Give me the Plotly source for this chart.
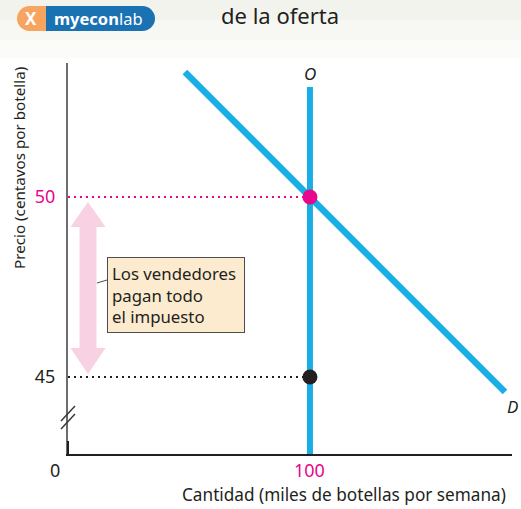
import plotly.graph_objects as go

# ---------------- data ----------------
price_tick_vals = [45, 50]
price_tick_text = ["45", "50"]
qty_tick_vals = [100]
qty_tick_text = ["100"]

supply_q = [100, 100]
supply_p = [42.86, 53.05]
demand_q = [48.3, 180.6]
demand_p = [53.47, 44.58]

eq_q = 100
price_buyers = 50   # price paid by buyers
price_sellers = 45  # price received by sellers

x_range = [0, 183.5]
y_range = [42.86, 53.72]

# ---------------- layout helpers ----------------
W, H = 521, 509
L, R, T, B = 68, 512, 63, 454

def px(x):
    return (x - L) / (R - L)

def py(y):
    return (B - y) / (B - T)

FONT = "Noto Sans"
BLUE = "#19aee6"
MAGENTA = "#e8068c"
DARK = "#231f20"
PINK = "#f8d1e2"

fig = go.Figure()

# dotted guide lines
fig.add_trace(go.Scatter(x=[0, eq_q], y=[price_buyers, price_buyers], mode="lines",
                         line=dict(color=MAGENTA, width=2, dash="2px,4px"), hoverinfo="skip"))
fig.add_trace(go.Scatter(x=[0, eq_q], y=[price_sellers, price_sellers], mode="lines",
                         line=dict(color=DARK, width=2, dash="2px,4px"), hoverinfo="skip"))
# supply & demand
fig.add_trace(go.Scatter(x=supply_q, y=supply_p, mode="lines",
                         line=dict(color=BLUE, width=6), hoverinfo="skip"))
fig.add_trace(go.Scatter(x=demand_q, y=demand_p, mode="lines",
                         line=dict(color=BLUE, width=6.5), hoverinfo="skip"))
# points
fig.add_trace(go.Scatter(x=[eq_q], y=[price_buyers], mode="markers",
                         marker=dict(color=MAGENTA, size=15), hoverinfo="skip"))
fig.add_trace(go.Scatter(x=[eq_q], y=[price_sellers], mode="markers",
                         marker=dict(color=DARK, size=15), hoverinfo="skip"))

shapes = []
# top background band (light gradient)
for (y0, y1, c) in [(0, 20, "#f3f3ee"), (20, 40, "#f7f7f3"), (40, 58, "#fbfbf9")]:
    shapes.append(dict(type="rect", xref="paper", yref="paper", x0=px(0), x1=px(W),
                       y0=py(y1), y1=py(y0), fillcolor=c, line=dict(width=0), layer="below"))

# logo pill
def circ(cx, cy, r, color):
    return dict(type="circle", xref="paper", yref="paper", x0=px(cx - r), x1=px(cx + r),
                y0=py(cy + r), y1=py(cy - r), fillcolor=color, line=dict(width=0))
shapes.append(circ(29.5, 18.5, 12.5, "#f6a45f"))
shapes.append(circ(142.5, 18.5, 12.5, "#1a72b3"))
shapes.append(dict(type="rect", xref="paper", yref="paper", x0=px(29.5), x1=px(46),
                   y0=py(31), y1=py(6), fillcolor="#f6a45f", line=dict(width=0)))
shapes.append(dict(type="rect", xref="paper", yref="paper", x0=px(46), x1=px(142.5),
                   y0=py(31), y1=py(6), fillcolor="#1a72b3", line=dict(width=0)))

# pink double arrow
cx = 88
pts = [(cx, 202), (cx + 17.5, 227), (cx + 8.5, 227), (cx + 8.5, 348), (cx + 17.5, 348),
       (cx, 374), (cx - 17.5, 348), (cx - 8.5, 348), (cx - 8.5, 227), (cx - 17.5, 227)]
path = "M " + " L ".join(f"{px(a):.5f},{py(b):.5f}" for a, b in pts) + " Z"
shapes.append(dict(type="path", xref="paper", yref="paper", path=path,
                   fillcolor=PINK, line=dict(width=0), layer="below"))

# connector line from arrow to box
shapes.append(dict(type="line", xref="paper", yref="paper", x0=px(97), y0=py(283),
                   x1=px(107), y1=py(280), line=dict(color="#4d4d4d", width=1)))

# axis break marks
for off in (0, 8):
    shapes.append(dict(type="line", xref="paper", yref="paper", x0=px(61), y0=py(429 - off),
                       x1=px(75), y1=py(414 - off), line=dict(color="#3a3a3a", width=1.5)))
# darker bottom piece of y axis
shapes.append(dict(type="line", xref="paper", yref="paper", x0=px(68), y0=py(441),
                   x1=px(68), y1=py(454), line=dict(color=DARK, width=2)))

annotations = []
# logo text
annotations.append(dict(xref="paper", yref="paper", x=px(31), y=py(18.5), text="<b>X</b>",
                        showarrow=False, font=dict(family=FONT, size=17, color="white"),
                        xanchor="center", yanchor="middle"))
annotations.append(dict(xref="paper", yref="paper", x=px(98.5), y=py(18.5),
                        text="<b>myecon</b>lab", showarrow=False,
                        font=dict(family=FONT, size=16.5, color="white"),
                        xanchor="center", yanchor="middle"))
# title
annotations.append(dict(xref="paper", yref="paper", x=px(280), y=py(15), text="de la oferta",
                        showarrow=False, font=dict(family=FONT, size=22, color=DARK),
                        xanchor="center", yanchor="middle"))
# curve labels
annotations.append(dict(x=supply_q[0], y=supply_p[1], text="<i>O</i>", showarrow=False,
                        yshift=14, font=dict(family=FONT, size=17, color=DARK)))
annotations.append(dict(x=demand_q[1], y=demand_p[1], text="<i>D</i>", showarrow=False,
                        xshift=8, yshift=-14, font=dict(family=FONT, size=17, color=DARK)))
# origin label
annotations.append(dict(xref="paper", yref="paper", x=px(55), y=py(470), text="0",
                        showarrow=False, font=dict(family=FONT, size=18, color=DARK),
                        xanchor="center", yanchor="middle"))
# quantity tick label(s)
for v, t in zip(qty_tick_vals, qty_tick_text):
    annotations.append(dict(x=v, xref="x", yref="paper", y=py(470), text=t, showarrow=False,
                            font=dict(family=FONT, size=18, color=MAGENTA),
                            xanchor="center", yanchor="middle"))
# axis titles
annotations.append(dict(xref="paper", yref="paper", x=px(343.5), y=py(495),
                        text="Cantidad (miles de botellas por semana)", showarrow=False,
                        font=dict(family=FONT, size=17.2, color=DARK),
                        xanchor="center", yanchor="middle"))
annotations.append(dict(xref="paper", yref="paper", x=px(19), y=py(168),
                        text="Precio (centavos por botella)", showarrow=False, textangle=-90,
                        font=dict(family=FONT, size=15.2, color=DARK),
                        xanchor="center", yanchor="middle"))
# label box
annotations.append(dict(xref="paper", yref="paper", x=px(107), y=py(257),
                        text="Los vendedores<br>pagan todo<br>el impuesto", showarrow=False,
                        align="left", valign="middle", xanchor="left", yanchor="top",
                        width=128, height=66, borderpad=4, borderwidth=1,
                        bordercolor="#4d4d4d", bgcolor="#fdebd0",
                        font=dict(family=FONT, size=16.8, color=DARK)))

colors_y = {"50": MAGENTA, "45": DARK}
fig.update_layout(
    width=W, height=H,
    margin=dict(l=L, r=W - R, t=T, b=H - B, pad=0),
    paper_bgcolor="white", plot_bgcolor="white",
    showlegend=False,
    shapes=shapes, annotations=annotations,
    xaxis=dict(range=x_range, showgrid=False, zeroline=False, showline=True,
               linecolor=DARK, linewidth=2, ticks="", showticklabels=False),
    yaxis=dict(range=y_range, showgrid=False, zeroline=False, showline=True,
               linecolor="#6d6e71", linewidth=2, ticks="", tickvals=price_tick_vals,
               ticktext=[f"<span style='color:{colors_y[t]}'>{t}</span>" for t in price_tick_text],
               tickfont=dict(family=FONT, size=18), ticklabelstandoff=7),
)

fig.write_html("out.html", config={"displayModeBar": False},
               post_script="document.body.style.margin='0';document.body.style.overflow='hidden';")
